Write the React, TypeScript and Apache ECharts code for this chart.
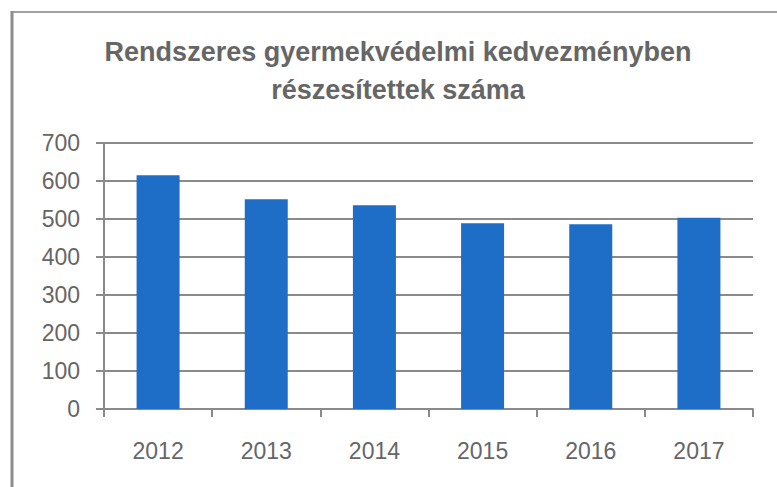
import React, { useEffect, useRef } from "react";
import * as echarts from "echarts";

const titleLines = [
  "Rendszeres gyermekvédelmi kedvezményben",
  "részesítettek száma",
];
const years = ["2012", "2013", "2014", "2015", "2016", "2017"];
const values = [615, 552, 536, 489, 486, 503];
const yTicks = { min: 0, max: 700, interval: 100 };

export default function App() {
  const ref = useRef<HTMLDivElement>(null);
  useEffect(() => {
    if (!ref.current) return;
    const chart = echarts.init(ref.current, undefined, { renderer: "svg" });
    const gray = "#8a8a8a";
    const textColor = "#666666";
    chart.setOption({
      animation: false,
      backgroundColor: "#ffffff",
      graphic: [
        {
          type: "line",
          shape: { x1: 12, y1: 12, x2: 777, y2: 12 },
          style: { stroke: "#a0a0a0", lineWidth: 2 },
        },
        {
          type: "line",
          shape: { x1: 12, y1: 11, x2: 12, y2: 487 },
          style: { stroke: "#8c8c8c", lineWidth: 3 },
        },
        {
          type: "text",
          x: 398,
          y: 52,
          style: {
            text: titleLines[0],
            fill: textColor,
            font: "bold 27px 'Liberation Sans', Arial, sans-serif",
            textAlign: "center",
            textVerticalAlign: "middle",
          },
        },
        {
          type: "text",
          x: 398,
          y: 90,
          style: {
            text: titleLines[1],
            fill: textColor,
            font: "bold 27px 'Liberation Sans', Arial, sans-serif",
            textAlign: "center",
            textVerticalAlign: "middle",
          },
        },
      ],
      grid: { left: 104, right: 24, top: 143, bottom: 78, containLabel: false },
      xAxis: {
        type: "category",
        data: years,
        axisLine: { show: true, lineStyle: { color: gray, width: 2 } },
        axisTick: { show: true, length: 8, lineStyle: { color: gray, width: 2 } },
        axisLabel: {
          color: textColor,
          fontSize: 23,
          fontFamily: "'Liberation Sans', Arial, sans-serif",
          margin: 30,
        },
        splitLine: { show: false },
      },
      yAxis: {
        type: "value",
        min: yTicks.min,
        max: yTicks.max,
        interval: yTicks.interval,
        axisLine: { show: true, lineStyle: { color: gray, width: 2 } },
        axisTick: { show: true, length: 8, lineStyle: { color: gray, width: 2 } },
        axisLabel: {
          color: textColor,
          fontSize: 23,
          fontFamily: "'Liberation Sans', Arial, sans-serif",
          margin: 24,
        },
        splitLine: { show: true, lineStyle: { color: gray, width: 2 } },
      },
      series: [
        {
          type: "bar",
          data: values,
          barWidth: 43,
          itemStyle: { color: "#1E6EC8" },
        },
      ],
    });
    return () => chart.dispose();
  }, []);
  return (
    <div
      ref={ref}
      style={{ position: "absolute", left: 0, top: 0, width: 777, height: 487 }}
    />
  );
}
